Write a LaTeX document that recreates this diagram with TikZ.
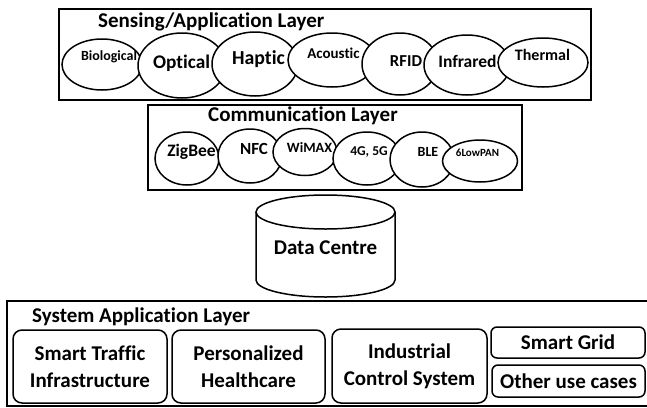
\documentclass[tikz,border=0pt]{standalone}
\usepackage{fontspec}
\setmainfont[Ligatures=NoCommon]{Carlito}
\usetikzlibrary{shapes.geometric}
\newcommand{\fsz}[1]{\fontsize{#1}{#1}\selectfont}
\tikzset{
    layer/.style={draw=black, line width=1.5pt},
    title/.style={anchor=base west, inner sep=0pt, font=\bfseries\fsz{21}},
    sensor/.style={ellipse, draw=black, fill=white, line width=1.5pt, inner sep=0pt},
    tag/.style={anchor=base, inner sep=0pt, font=\bfseries\fsz{#1}},
    usecase/.style={draw=black, fill=white, line width=1.5pt, rounded corners=9pt, inner sep=0pt,
        align=center, font=\bfseries\fontsize{21}{27}\selectfont},
}

\begin{document}
\begin{tikzpicture}[x=1pt, y=-1pt]
    \useasboundingbox (0,0) rectangle (647,407);

    % sensing / application layer
    \draw[layer] (59,9) rectangle (591,100);
    \node[title] (senseT) at (98,27) {Sensing/Application Layer};
    \node[sensor, minimum width=80, minimum height=51] (bio) at (102,64.5) {};
    \node[sensor, minimum width=88, minimum height=65] (opt) at (182,65.5) {};
    \node[sensor, minimum width=86, minimum height=64] (hap) at (255,64) {};
    \node[sensor, minimum width=88, minimum height=54] (aco) at (332,60) {};
    \node[sensor, minimum width=76, minimum height=62] (rfid) at (400,64) {};
    \node[sensor, minimum width=86, minimum height=60] (ir) at (467,65) {};
    \node[sensor, minimum width=90, minimum height=49] (therm) at (543,62.5) {};
    \node[tag=14] (bioT) at (109,60.5) {Biological};
    \node[tag=19.3] (optT) at (181.5,68) {Optical};
    \node[tag=19.8] (hapT) at (258.5,64.3) {Haptic};
    \node[tag=15] (acoT) at (333.5,58.8) {Acoustic};
    \node[tag=16.7] (rfidT) at (406,66.3) {RFID};
    \node[tag=17.5] (irT) at (467.5,67.6) {Infrared};
    \node[tag=16] (thermT) at (542.5,60.1) {Thermal};

    % communication layer
    \draw[layer] (148,105) rectangle (522,190);
    \node[title] (commT) at (208,121) {Communication Layer};
    \node[sensor, minimum width=64, minimum height=53] (zig) at (187,158.5) {};
    \node[sensor, minimum width=64, minimum height=54] (nfc) at (250,156) {};
    \node[sensor, minimum width=64, minimum height=47] (wimax) at (305,152) {};
    \node[sensor, minimum width=68, minimum height=53] (cell) at (367,158.5) {};
    \node[sensor, minimum width=64, minimum height=55] (ble) at (422,159.5) {};
    \node[sensor, minimum width=75, minimum height=42] (lowpan) at (480,161) {};
    \node[tag=17.5] (zigT) at (191.5,156.6) {ZigBee};
    \node[tag=17] (nfcT) at (254,154.4) {NFC};
    \node[tag=14.2] (wimaxT) at (309.5,152.5) {WiMAX};
    \node[tag=13.5] (cellT) at (369,155.3) {4G, 5G};
    \node[tag=14] (bleT) at (428,156.5) {BLE};
    \node[tag=11] (lowpanT) at (477.5,156.5) {6LowPAN};

    % data centre
    \draw[layer, fill=white] (256,212) -- (256,280) arc[start angle=180, end angle=0, x radius=69.5, y radius=17] -- (395,212);
    \draw[layer] (325.5,212) ellipse [x radius=69.5, y radius=17];
    \node[font=\bfseries\fsz{21}] (dc) at (325.5,248) {Data Centre};

    % system application layer
    \draw[layer] (7,301) rectangle (660,406);
    \node[title] (sysT) at (32,322) {System Application Layer};
    \node[usecase, minimum width=154, minimum height=73] (traffic) at (90,366.5) {Smart Traffic\\Infrastructure};
    \node[usecase, minimum width=153, minimum height=73] (health) at (248.5,366.5) {Personalized\\Healthcare};
    \node[usecase, minimum width=155, minimum height=74] (ics) at (409.5,366) {Industrial\\Control System};
    \node[usecase, minimum width=154, minimum height=31, rounded corners=6pt] (grid) at (568,342.5) {Smart Grid};
    \node[usecase, minimum width=153, minimum height=32, rounded corners=6pt] (other) at (568.5,381) {Other use cases};
\end{tikzpicture}
\end{document}
